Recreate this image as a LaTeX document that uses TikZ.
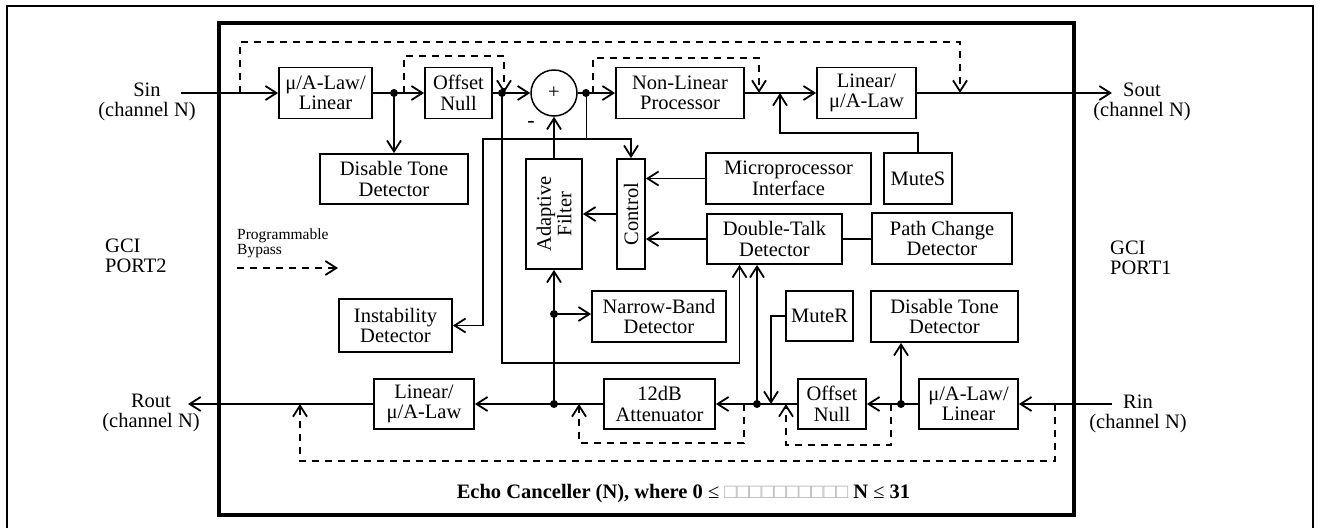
\documentclass[tikz,border=0pt]{standalone}
\usepackage{fontspec}
\setmainfont{Liberation Serif}
\usetikzlibrary{arrows.meta, calc}
\tikzset{
  blk/.style={draw, line width=1.8pt, align=center, inner sep=0pt, minimum height=51pt},
  sig/.style={-{Straight Barb[length=11pt,width=14pt]}, line width=1.8pt},
  wire/.style={line width=1.8pt},
  byp/.style={sig, dash pattern=on 7pt off 6pt},
  lbl/.style={align=center, inner sep=0pt},
}

\begin{document}
\begin{tikzpicture}[x=1pt, y=-1pt, font=\fontsize{20.5}{20.5}\selectfont]
  \useasboundingbox (0,0) rectangle (1324,528);
  % frames
  \draw[line width=1.5pt] (7,528) -- (7,6) -- (1313,6) -- (1313,528);
  \draw[line width=3.5pt] (219,23) rectangle (1074,515);

  % send path
  \node[blk, minimum width=93pt] (law1) at (325.5,93) {μ/A-Law/\\Linear};
  \node[blk, minimum width=67pt] (ofs1) at (458.5,93) {Offset\\Null};
  \node[draw, circle, line width=1.5pt, minimum size=46pt, inner sep=0pt] (sum) at (554,93) {+};
  \node[blk, minimum width=128pt] (nlp) at (680,93) {Non-Linear\\Processor};
  \node[blk, minimum width=99pt] (lin1) at (866.5,93) {Linear/\\μ/A-Law};
  \node[blk, minimum width=148pt, minimum height=50pt] (dtd1) at (394,179) {Disable Tone\\Detector};
  \node[blk, minimum width=165pt] (mpi) at (788.5,178.5) {Microprocessor\\Interface};
  \node[blk, minimum width=68pt] (mutes) at (918,178.5) {MuteS};
  \node[blk, rotate=90, minimum width=110pt, minimum height=56pt] (af) at (554,214) {Adaptive\\Filter};
  \node[blk, rotate=90, minimum width=110pt, minimum height=28pt] (ctl) at (631,214) {Control};
  \node[blk, minimum width=135pt, minimum height=50pt] (dtk) at (774.5,239) {Double-Talk\\Detector};
  \node[blk, minimum width=140pt] (pcd) at (942,238.5) {Path Change\\Detector};
  \node[blk, minimum width=113pt, minimum height=53pt] (ins) at (395.5,325.5) {Instability\\Detector};
  \node[blk, minimum width=134pt] (nbd) at (659,316.5) {Narrow-Band\\Detector};
  \node[blk, minimum width=67pt, minimum height=50pt] (muter) at (819.5,316) {MuteR};
  \node[blk, minimum width=147pt] (dtd2) at (944.5,316.5) {Disable Tone\\Detector};

  % receive path
  \node[blk, minimum width=100pt, minimum height=50pt] (lin2) at (424,404) {Linear/\\μ/A-Law};
  \node[blk, minimum width=111pt, minimum height=50pt] (att) at (659.5,404) {12dB\\Attenuator};
  \node[blk, minimum width=68pt, minimum height=50pt] (ofs2) at (832,404) {Offset\\Null};
  \node[blk, minimum width=99pt, minimum height=50pt] (law2) at (968.5,404) {μ/A-Law/\\Linear};

  % labels
  \node[lbl] (sinl) at (147,102) {Sin\\(channel N)};
  \node[lbl] (soutl) at (1142,102) {Sout\\(channel N)};
  \node[lbl] (routl) at (151,413) {Rout\\(channel N)};
  \node[lbl] (rinl) at (1138,414) {Rin\\(channel N)};
  \node[lbl, anchor=west, align=left] (gci2) at (105,256) {GCI\\PORT2};
  \node[lbl, anchor=west, align=left] (gci1) at (1110,258) {GCI\\PORT1};
  \node[lbl, anchor=south west, align=left, font=\fontsize{15.5}{12}\selectfont] (bypl) at (237,258) {Programmable\\Bypass};
  \node[lbl, font=\fontsize{22}{22}\selectfont] (minus) at (531,124) {-};
  \node[lbl, font=\bfseries\fontsize{20.5}{20.5}\selectfont] (capt) at (683.5,494)
    {Echo Canceller (N), where 0 \textmd{≤} {\mdseries\color{gray!60}□□□□□□□□□□} N \textmd{≤} 31};

  % send connectors
  \coordinate (sin) at (181,93);
  \coordinate (sout) at (1112,93);
  \coordinate (j1) at (394,93);
  \coordinate (j2) at (502,93);
  \coordinate (j3) at (586,93);
  \coordinate (msin) at (780,93);
  \coordinate (ebus) at (586,139);
  \draw[sig] (sin) -- (law1);
  \draw[sig] (law1) -- (ofs1);
  \draw[sig] (j1) -- (dtd1);
  \draw[sig] (ofs1) -- (sum);
  \draw[sig] (sum) -- (nlp);
  \draw[sig] (nlp) -- (lin1);
  \draw[sig] (lin1) -- (sout);
  \draw[sig] (mutes.north) -- ++(0,-19) -| (msin);
  \draw[line width=1pt] (j3) -- (ebus);
  \draw[sig] (ebus) -| (ctl.east);
  \draw[sig] (ebus) -- ++(-103,0) |- (ins.east);
  \draw[sig] (j2) -- ++(0,270) -| ([xshift=-35pt]dtk.south);
  \draw[sig] (mpi.west) -- (mpi.west -| ctl.south);
  \draw[sig] (dtk.west) -- (dtk.west -| ctl.south);
  \draw[sig] (ctl.north) -- (af.south);
  \draw[sig] (af.east) -- (sum.south);
  \draw[wire] (dtk.east) -- (dtk.east -| pcd.west);

  % receive connectors
  \coordinate (rin) at (1112,404);
  \coordinate (rout) at (188,404);
  \coordinate (j4) at (901,404);
  \coordinate (j5) at (757,404);
  \coordinate (j6) at (554,404);
  \coordinate (j7) at (554,314);
  \coordinate (mrin) at (771,404);
  \draw[sig] (rin) -- (law2);
  \draw[sig] (law2) -- (ofs2);
  \draw[sig] (ofs2) -- (att);
  \draw[sig] (att) -- (lin2);
  \draw[sig] (lin2) -- (rout);
  \draw[sig] (j4) -- (j4 |- dtd2.south);
  \draw[sig] (j5) -- (j5 |- dtk.south);
  \draw[sig] (muter.west) -| (mrin);
  \draw[sig] (j6) -- (af.west);
  \draw[sig] (j7) -- (j7 -| nbd.west);
  \foreach \j in {j1,j2,j3,j4,j5,j6,j7}
    \fill (\j) circle (4pt);

  % bypasses
  \coordinate (bs1) at (240,93);  \coordinate (be1) at (960,93);
  \coordinate (bs2) at (404,93);  \coordinate (be2) at (504,93);
  \coordinate (bs3) at (593,93);  \coordinate (be3) at (759,93);
  \coordinate (bs4) at (1055,404); \coordinate (be4) at (300,404);
  \coordinate (bs5) at (891,404); \coordinate (be5) at (786,404);
  \coordinate (bs6) at (744,404); \coordinate (be6) at (579,404);
  \coordinate (bypa) at (237,268); \coordinate (bypb) at (338,268);
  \draw[byp] (bs1) -- ++(0,-51) -| (be1);
  \draw[byp] (bs2) -- ++(0,-37) -| (be2);
  \draw[byp] (bs3) -- ++(0,-35) -| (be3);
  \draw[byp] (bs4) -- ++(0,57) -| (be4);
  \draw[byp] (bs5) -- ++(0,41) -| (be5);
  \draw[byp] (bs6) -- ++(0,39) -| (be6);
  \draw[byp] (bypa) -- (bypb);
\end{tikzpicture}
\end{document}
